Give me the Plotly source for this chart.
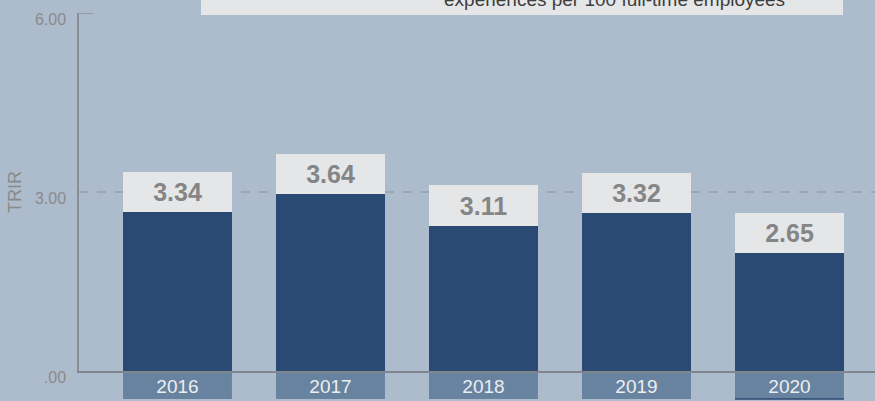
import plotly.graph_objects as go

years = ["2016", "2017", "2018", "2019", "2020"]
trir = [3.34, 3.64, 3.11, 3.32, 2.65]
y_ticks = [0, 3, 6]
y_tick_labels = [".00", "3.00", "6.00"]
subtitle = "experiences per 100 full-time employees"

BG = "#adbccd"
NAVY = "#2a4a74"
LABEL_BOX = "#e4e6e8"
SLATE = "#6883a0"
GREY_TEXT = "#858585"
AXIS = "#8a8f96"
FONT = "Liberation Sans, Arial, sans-serif"

LABEL_H = 0.68  # height of the light value box on top of each bar (data units)
BAR_W = 0.712
PLOT_H = 358

fig = go.Figure()

# dark part of the bar, the light box carries the value
fig.add_trace(go.Bar(
    x=years,
    y=[v - LABEL_H for v in trir],
    marker=dict(color=NAVY, line=dict(width=0)),
    width=BAR_W,
    hoverinfo="skip",
))
fig.add_trace(go.Bar(
    x=years,
    y=[LABEL_H] * len(trir),
    marker=dict(color=LABEL_BOX, line=dict(width=0)),
    width=BAR_W,
    text=[f"{v:.2f}" for v in trir],
    textposition="inside",
    insidetextanchor="middle",
    textangle=0,
    textfont=dict(family=FONT, size=25, color=GREY_TEXT, weight="bold"),
    customdata=trir,
    hovertemplate="%{x}: %{customdata:.2f}<extra></extra>",
))

shapes = []
# reference line at 3.00
shapes.append(dict(type="line", xref="paper", yref="y", x0=0, x1=1, y0=3, y1=3,
                   line=dict(color=AXIS, width=1.2, dash="dash"), layer="below"))
# small tick at the top of the y axis
shapes.append(dict(type="line", xref="paper", yref="y", x0=0, x1=14 / 796, y0=6, y1=6,
                   line=dict(color=AXIS, width=1.5), layer="above"))
# year label boxes under the axis
for i, yr in enumerate(years):
    shapes.append(dict(type="rect", xref="x", yref="paper",
                       x0=i - BAR_W / 2, x1=i + BAR_W / 2, y0=-28 / PLOT_H, y1=0,
                       fillcolor=SLATE, line=dict(width=0), layer="below"))
shapes.append(dict(type="line", xref="x", yref="paper",
                   x0=len(years) - 1 - BAR_W / 2, x1=len(years) - 1 + BAR_W / 2,
                   y0=-28 / PLOT_H, y1=-28 / PLOT_H,
                   line=dict(color=NAVY, width=1.5), layer="above"))
# subtitle box at the top (cut off by the frame)
shapes.append(dict(type="rect", xref="paper", yref="paper",
                   x0=(201 - 79) / 796, x1=(843 - 79) / 796,
                   y0=1 - 2 / PLOT_H, y1=1 + 14 / PLOT_H,
                   fillcolor=LABEL_BOX, line=dict(width=0), layer="above"))

fig.update_layout(
    width=875,
    height=401,
    margin=dict(l=79, r=0, t=13, b=30, autoexpand=False),
    paper_bgcolor=BG,
    plot_bgcolor="rgba(0,0,0,0)",
    barmode="stack",
    bargap=0,
    showlegend=False,
    font=dict(family=FONT, color=GREY_TEXT),
    shapes=shapes,
    annotations=[dict(
        text=subtitle, xref="paper", yref="paper",
        x=(614 - 79) / 796, y=1 + 13.5 / PLOT_H,
        xanchor="center", yanchor="middle", showarrow=False,
        font=dict(family=FONT, size=19, color="#3e3e3e"),
    )],
)

fig.update_xaxes(
    range=[-0.6438, 4.559],
    showline=True, linecolor="#80868e", linewidth=1.5,
    showgrid=False, zeroline=False, ticks="",
    tickfont=dict(family=FONT, size=19, color="#eceef0"),
    ticklabelstandoff=-3,
    fixedrange=True,
)
fig.update_yaxes(
    range=[0, 6],
    tickvals=y_ticks, ticktext=y_tick_labels,
    showline=True, linecolor=AXIS, linewidth=1.5,
    showgrid=False, zeroline=False, ticks="",
    ticklabelstandoff=8, ticklabelshift=6,
    tickfont=dict(family=FONT, size=16, color="#8a8a8a"),
    title=dict(text="TRIR", standoff=9, font=dict(family=FONT, size=18, color="#8a8a8a")),
    fixedrange=True,
)

# the page body has a default 8px margin; remove it so the chart fills the window
fig.write_html(
    "out.html",
    config={"displayModeBar": False},
    post_script="document.body.style.margin='0';",
)
